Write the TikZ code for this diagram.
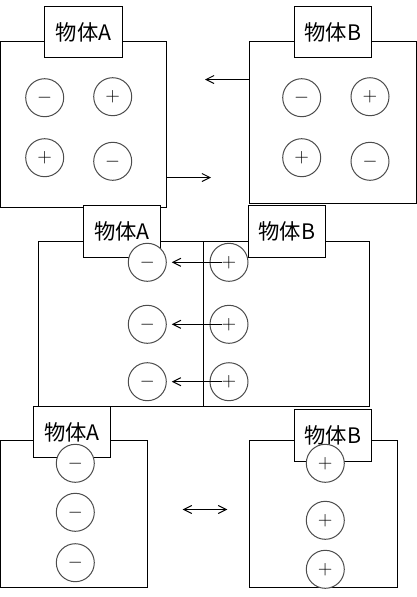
\documentclass[tikz,border=0pt]{standalone}
\usepackage{fontspec}
\newfontfamily\cjk{Noto Sans CJK SC}
\usetikzlibrary{arrows.meta}
\newlength\px
\setlength\px{0.75pt}

\begin{document}
\begin{tikzpicture}[x=1\px, y=-1\px,
  body/.style={draw, fill=white, line width=1\px, inner sep=0pt, outer sep=0pt, anchor=north west},
  tag/.style={body, minimum width=77\px, minimum height=51\px,
              font=\cjk\fontsize{16}{16}\selectfont},
  charge/.style={circle, draw=black!70, fill=white, line width=1\px,
                 minimum size=38\px, inner sep=0pt, font=\fontsize{14.4}{14.4}\selectfont},
  arr/.style={-{Straight Barb[length=6pt,width=6pt]}, line width=1\px},
  biarr/.style={{Straight Barb[length=6pt,width=6pt]}-{Straight Barb[length=6pt,width=6pt]}, line width=1\px}
]
  \useasboundingbox (0,0) rectangle (417,597);
  % before contact
  \node[body, minimum width=165.5\px, minimum height=165.5\px] (bodyA1) at (0.5,41.5) {};
  \node[body, minimum width=167\px, minimum height=162\px] (bodyB1) at (249.5,41.5) {};
  \node[tag, minimum width=78\px] (tagA1) at (44.5,6.5) {物体A};
  \node[tag] (tagB1) at (294.5,6.5) {物体B};
  \foreach \x/\y/\s [count=\i] in {44.7/97.7/-, 112.7/96.7/+, 44.7/157.7/+, 112.7/161.3/-}
    \node[charge] (qA\i) at (\x,\y) {$\s$};
  \foreach \x/\y/\s [count=\i] in {301.7/97.7/-, 370/96.7/+, 301.7/157.7/+, 370/161.3/-}
    \node[charge] (qB\i) at (\x,\y) {$\s$};
  \coordinate (pullB) at (211,177.5);
  \coordinate (pullA) at (205,79.5);
  \draw[arr] (bodyA1.east |- pullB) -- (pullB);
  \draw[arr] (bodyB1.west |- pullA) -- (pullA);

  % in contact
  \node[body, minimum width=165\px, minimum height=165\px] (bodyA2) at (38.5,241.5) {};
  \node[body, minimum width=166\px, minimum height=165\px] (bodyB2) at (bodyA2.north east) {};
  \node[tag, minimum height=52\px] (tagA2) at (83.5,205.5) {物体A};
  \node[tag, minimum height=52\px] (tagB2) at (248.5,205.5) {物体B};
  \foreach \y [count=\i] in {262.3, 324.3, 381.7} {
    \node[charge] (mA\i) at (147.3,\y) {$-$};
    \node[charge] (pB\i) at (229,\y) {$+$};
    \draw[arr, shorten <=7\px, shorten >=5\px] (pB\i.center) -- (mA\i.east);
  }

  % after separation
  \node[body, minimum width=147\px, minimum height=147\px] (bodyA3) at (0.5,440.5) {};
  \node[body, minimum width=148\px, minimum height=147\px] (bodyB3) at (249.5,440.5) {};
  \node[tag] (tagA3) at (33.5,406.5) {物体A};
  \node[tag, minimum height=52\px] (tagB3) at (294.5,409.5) {物体B};
  \foreach \y [count=\i] in {463.3, 512.3, 562.7}
    \node[charge] (nA\i) at (75.3,\y) {$-$};
  \foreach \y [count=\i] in {463.3, 520.3, 569.3}
    \node[charge] (nB\i) at (325.3,\y) {$+$};
  \coordinate (gapL) at (182.7,509.5);
  \coordinate (gapR) at (227.3,509.5);
  \draw[biarr] (gapL) -- (gapR);
\end{tikzpicture}
\end{document}
